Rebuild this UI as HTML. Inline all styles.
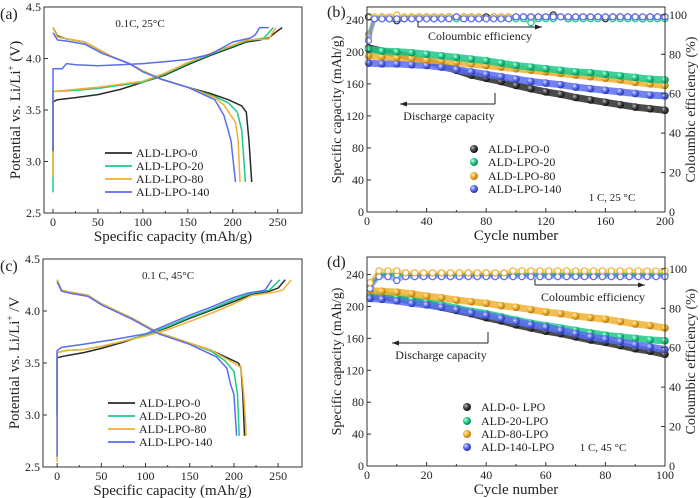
<!DOCTYPE html>
<html><head><meta charset="utf-8">
<style>
body{margin:0;background:#fff;}
svg{display:block;font-family:"Liberation Serif",serif;}
</style></head>
<body>
<svg id="fig" width="700" height="498" viewBox="0 0 700 498">
<defs>
<radialGradient id="g-black" cx="35%" cy="35%" r="65%"><stop offset="0" stop-color="#bbb"/><stop offset="0.5" stop-color="#444"/><stop offset="1" stop-color="#111"/></radialGradient>
<radialGradient id="g-green" cx="35%" cy="35%" r="65%"><stop offset="0" stop-color="#c8ffe8"/><stop offset="0.5" stop-color="#22cc88"/><stop offset="1" stop-color="#0a8a5a"/></radialGradient>
<radialGradient id="g-orange" cx="35%" cy="35%" r="65%"><stop offset="0" stop-color="#fff0c0"/><stop offset="0.5" stop-color="#f0b030"/><stop offset="1" stop-color="#b07a10"/></radialGradient>
<radialGradient id="g-blue" cx="35%" cy="35%" r="65%"><stop offset="0" stop-color="#dde2ff"/><stop offset="0.5" stop-color="#5a6cf0"/><stop offset="1" stop-color="#2a38b0"/></radialGradient>
</defs>
</svg>
<script>
// ---------- Panel (a) voltage profiles, 0.1C 25C ----------
const aBlackChgX=[0,0,5,25,50,75,100,125,150,175,200,215,230,240,250,255];
const aBlackChgY=[3.1,3.58,3.6,3.62,3.65,3.7,3.77,3.84,3.94,4.03,4.11,4.16,4.18,4.2,4.27,4.3];
const aBlackDisX=[0,5,15,35,50,65,85,100,120,150,175,195,210,215,218,221];
const aBlackDisY=[4.3,4.22,4.19,4.16,4.09,4.02,3.95,3.88,3.8,3.72,3.66,3.6,3.54,3.48,3.2,2.8];
const aGreenChgX=[0,0,25,50,75,100,125,150,175,200,215,235,242,245];
const aGreenChgY=[2.7,3.68,3.69,3.71,3.74,3.77,3.85,3.95,4.04,4.12,4.17,4.2,4.27,4.3];
const aGreenDisX=[0,5,15,35,50,65,85,100,120,150,180,195,205,210,214];
const aGreenDisY=[4.3,4.21,4.19,4.16,4.09,4.02,3.95,3.88,3.8,3.72,3.63,3.57,3.48,3.3,2.8];
const aOrangeChgX=[0,0,25,50,75,100,125,150,175,200,215,240,245,248];
const aOrangeChgY=[2.85,3.68,3.7,3.72,3.75,3.78,3.86,3.96,4.05,4.13,4.18,4.19,4.26,4.3];
const aOrangeDisX=[0,5,15,35,50,65,85,100,120,150,180,190,200,203,206,208];
const aOrangeDisY=[4.3,4.21,4.19,4.16,4.09,4.02,3.95,3.88,3.8,3.72,3.62,3.55,3.42,3.38,3.2,2.8];
const aBlueChgX=[0,0,10,15,25,50,75,100,125,150,175,200,220,225,230,240];
const aBlueChgY=[3.1,3.9,3.9,3.95,3.94,3.93,3.94,3.95,3.97,3.99,4.04,4.16,4.2,4.23,4.3,4.3];
const aBlueDisX=[0,5,15,35,55,85,100,120,150,180,190,195,198,203];
const aBlueDisY=[4.25,4.18,4.17,4.14,4.05,3.95,3.87,3.8,3.72,3.6,3.45,3.3,3.2,2.8];
// ---------- Panel (c) voltage profiles, 0.1C 45C ----------
const cBlackChgX=[0,0,10,30,50,75,100,125,150,175,200,220,240,250,258];
const cBlackChgY=[3.0,3.55,3.57,3.6,3.64,3.7,3.77,3.84,3.93,4.01,4.09,4.16,4.19,4.22,4.3];
const cBlackDisX=[0,5,15,35,50,65,85,100,115,150,175,195,205,208,210,212];
const cBlackDisY=[4.3,4.2,4.18,4.15,4.07,4.01,3.93,3.86,3.79,3.69,3.62,3.54,3.5,3.45,3.2,2.8];
const cGreenChgX=[0,0,10,30,50,75,100,125,150,175,200,220,240,252];
const cGreenChgY=[3.0,3.6,3.62,3.63,3.66,3.71,3.77,3.85,3.94,4.02,4.11,4.17,4.2,4.3];
const cGreenDisX=[0,5,15,35,50,65,85,100,115,150,175,190,200,204,206];
const cGreenDisY=[4.3,4.2,4.18,4.15,4.07,4.01,3.93,3.86,3.79,3.69,3.61,3.52,3.42,3.2,2.8];
const cOrangeChgX=[0,0,10,30,50,75,100,125,150,175,200,220,245,255,265];
const cOrangeChgY=[2.55,3.6,3.62,3.63,3.66,3.71,3.76,3.82,3.9,3.98,4.07,4.15,4.18,4.2,4.3];
const cOrangeDisX=[0,5,15,35,50,65,85,100,115,150,175,200,208,211,214];
const cOrangeDisY=[4.3,4.2,4.18,4.15,4.07,4.01,3.93,3.86,3.79,3.69,3.62,3.5,3.46,3.2,2.8];
const cBlueChgX=[0,0,5,30,60,100,125,150,175,200,215,235,243];
const cBlueChgY=[2.6,3.62,3.65,3.68,3.72,3.78,3.87,3.96,4.04,4.13,4.17,4.2,4.3];
const cBlueDisX=[0,5,15,35,50,65,85,100,115,150,180,192,196,200,203];
const cBlueDisY=[4.28,4.19,4.17,4.14,4.06,4.0,3.92,3.85,3.78,3.68,3.56,3.45,3.3,3.2,2.8];
// ---------- Panel (b) cycling 1C 25C ----------
const bCapCycles=[1,10,20,30,40,50,60,70,80,90,100,110,120,130,140,150,160,170,180,190,200];
const bCapBlack=[205,201,197,193,189,183,177,171,167,163,158,154,150,147,143,140,137,134,131,129,127];
const bCapGreen=[203,201,200,199,197,195,193,191,189,186,183,181,179,177,175,174,172,170,168,166,165];
const bCapOrange=[195,194,193,192,190,189,187,185,183,181,179,177,175,173,171,169,167,165,162,160,158];
const bCapBlue=[186,185,185,184,183,181,178,175,172,169,166,163,161,159,156,154,152,150,148,146,145];
const bCeCycles=[1,5,10,15,20,25,30,35,40,45,50,55,60,65,70,75,80,85,90,95,100,105,110,115,120,125,130,135,140,145,150,155,160,165,170,175,180,185,190,195,200];
const bCeBlack=[99,98,99,98,97,98,99,99,99,99,99,99,99,99,99,99,99,99,99,99,99,99,99,99,99,100,99,98,99,99,99,99,98,99,99,99,99,98,99,99,99];
const bCeGreen=[90,98,98,98,98,99,98,98,99,98,98,99,98,98,99,98,98,99,98,98,98,98,96,98,98,98,99,98,98,98,98,98,99,98,98,98,98,98,98,98,98];
const bCeOrange=[89,99,99,99,100,99,99,99,99,99,99,99,99,99,99,99,98,99,99,99,99,99,99,99,99,99,99,99,99,99,99,99,99,99,99,99,99,99,99,99,99];
const bCeBlue=[87,98,98,98,98,98,98,98,98,98,98,98,99,98,98,98,98,98,98,98,99,99,99,99,99,99,99,99,99,99,99,99,99,99,99,99,99,99,99,99,99];
// ---------- Panel (d) cycling 1C 45C ----------
const dCapCycles=[1,5,10,15,20,25,30,35,40,45,50,55,60,65,70,75,80,85,90,95,100];
const dCapBlack=[213,212,210,207,204,199,195,191,186,182,177,173,169,166,162,158,155,151,147,144,140];
const dCapGreen=[216,215,212,209,206,202,198,194,191,187,183,179,176,173,170,167,164,162,160,158,157];
const dCapOrange=[220,219,218,216,213,211,208,206,204,201,199,196,193,191,188,186,184,181,178,176,173];
const dCapBlue=[210,209,207,204,202,199,196,192,189,185,181,177,174,170,166,162,159,156,152,149,146];
const dCeCycles=[1,4,7,10,13,16,19,22,25,28,31,34,37,40,43,46,49,52,55,58,61,64,67,70,73,76,79,82,85,88,91,94,97,100];
const dCeBlack=[92,97,97,97,97,97,97,97,97,97,97,97,97,97,97,97,97,97,97,97,97,97,97,97,97,97,97,97,97,97,97,97,97,97];
const dCeGreen=[91,97,97,97,97,97,97,97,97,97,97,97,97,97,97,97,97,97,97,97,97,97,97,97,97,97,97,97,97,97,97,97,97,97];
const dCeOrange=[93,99,99,99,98,98,98,98,98,98,98,98,98,98,98,98,99,99,99,99,99,99,99,99,99,99,99,99,99,99,99,99,99,99];
const dCeBlue=[90,96,96,94,96,96,96,96,96,96,96,96,96,96,96,96,96,96,96,96,96,96,96,96,96,96,96,96,96,96,96,96,96,96];

const NS="http://www.w3.org/2000/svg";
const svg=document.getElementById('fig');
const COL={black:'#2a2a2a',green:'#1fc98a',orange:'#f0b030',blue:'#5a6cf0'};
function mk(tag,attrs,parent){const e=document.createElementNS(NS,tag);for(const k in attrs)e.setAttribute(k,attrs[k]);(parent||svg).appendChild(e);return e;}
function txt(s,x,y,size,anchor,parent,extra){const t=mk('text',Object.assign({x:x,y:y,'font-size':size,'text-anchor':anchor||'start',fill:'#222'},extra||{}),parent);t.textContent=s;return t;}
function scale(d0,d1,p0,p1){return v=>p0+(v-d0)/(d1-d0)*(p1-p0);}

function frame(P,g){
  mk('rect',{x:P.x0,y:P.y0,width:P.x1-P.x0,height:P.y1-P.y0,fill:'none',stroke:'#333','stroke-width':1},g);
}
function xTicks(P,sx,ticks,minor,g,labels){
  ticks.forEach((v,i)=>{const x=sx(v);
    mk('line',{x1:x,x2:x,y1:P.y1,y2:P.y1-4,stroke:'#333'},g);
    const t=txt(labels[i],x,P.y1+13,12,'middle',g);
    
    });
  minor.forEach(v=>{const x=sx(v);mk('line',{x1:x,x2:x,y1:P.y1,y2:P.y1-2,stroke:'#333'},g);});
}
function yTicks(P,sy,ticks,labels,g,right){
  ticks.forEach((v,i)=>{const y=sy(v);
    if(right){mk('line',{x1:P.x1,x2:P.x1-4,y1:y,y2:y,stroke:'#333'},g);
      const t=txt(labels[i],P.x1+4,y+4,12,'start',g);
      
      }
    else{mk('line',{x1:P.x0,x2:P.x0+4,y1:y,y2:y,stroke:'#333'},g);
      const t=txt(labels[i],P.x0-3,y+4,12,'end',g);
      
      }
  });
}
function curve(xs,ys,sx,sy,color,g,name){
  const pts=xs.map((x,i)=>sx(x).toFixed(1)+','+sy(ys[i]).toFixed(1)).join(' ');
  const p=mk('polyline',{points:pts,fill:'none',stroke:color,'stroke-width':1.5,'stroke-linejoin':'round'},g);
  
  
}
function arrowLine(x1,y1,x2,y2,g){
  mk('line',{x1:x1,y1:y1,x2:x2,y2:y2,stroke:'#222','stroke-width':1},g);
  const dir=x2>x1?1:-1;
  mk('polygon',{points:`${x2},${y2} ${x2-dir*7},${y2-2.5} ${x2-dir*7},${y2+2.5}`,fill:'#222'},g);
}

// ===== voltage panels =====
function voltagePanel(P,id,label,cond,ytitle,series,legendX,legendY){
  const g=mk('g',{});
  
  
  const sx=scale(P.xd[0],P.xd[1],P.x0,P.x1), sy=scale(2.5,4.5,P.y1,P.y0);
  series.forEach(s=>{
    curve(s.cx,s.cy,sx,sy,COL[s.c],g,'charge-curve-'+s.c);
    curve(s.dx,s.dy,sx,sy,COL[s.c],g,'discharge-curve-'+s.c);
  });
  frame(P,g);
  xTicks(P,sx,[0,50,100,150,200,250],[25,75,125,175,225],g,['0','50','100','150','200','250']);
  yTicks(P,sy,[2.5,3.0,3.5,4.0,4.5],['2.5','3.0','3.5','4.0','4.5'],g);
  const pl=txt(label,0,P.y0+12,16,'start',g);
  
  
  const ct=txt(cond.t,cond.x,P.y0+20,11,'middle',g);
  
  
  const xt=txt('Specific capacity (mAh/g)',(P.x0+P.x1)/2,P.y1+28,15,'middle',g);
  
  
  const yt=mk('text',{x:0,y:0,'font-size':15,'text-anchor':'middle',fill:'#222',transform:`translate(${P.x0-24},${(P.y0+P.y1)/2}) rotate(-90)`},g);
  yt.innerHTML=ytitle;
  
  
  series.forEach((s,i)=>{
    const lg=mk('g',{},g);
    
    
    const y=legendY[i];
    mk('line',{x1:legendX,x2:legendX+27,y1:y,y2:y,stroke:COL[s.c],'stroke-width':1.8},lg);
    txt(s.name,legendX+31,y+4,12,'start',lg);
  });
}
voltagePanel({x0:44,x1:302,y0:7,y1:213,xd:[-10,277]},'a','(a)',{t:'0.1C, 25°C',x:140},
 'Potential vs. Li/Li<tspan font-size="9" dy="-6">+</tspan><tspan dy="6"> (V)</tspan>',
 [{c:'black',name:'ALD-LPO-0',cx:aBlackChgX,cy:aBlackChgY,dx:aBlackDisX,dy:aBlackDisY},
  {c:'green',name:'ALD-LPO-20',cx:aGreenChgX,cy:aGreenChgY,dx:aGreenDisX,dy:aGreenDisY},
  {c:'orange',name:'ALD-LPO-80',cx:aOrangeChgX,cy:aOrangeChgY,dx:aOrangeDisX,dy:aOrangeDisY},
  {c:'blue',name:'ALD-LPO-140',cx:aBlueChgX,cy:aBlueChgY,dx:aBlueDisX,dy:aBlueDisY}],
 105,[153,166,179,192]);
voltagePanel({x0:43,x1:302,y0:259,y1:467,xd:[-16,277]},'c','(c)',{t:'0.1 C, 45°C',x:168},
 'Potential vs. Li/Li<tspan font-size="9" dy="-6">+</tspan><tspan dy="6"> /V</tspan>',
 [{c:'black',name:'ALD-LPO-0',cx:cBlackChgX,cy:cBlackChgY,dx:cBlackDisX,dy:cBlackDisY},
  {c:'green',name:'ALD-LPO-20',cx:cGreenChgX,cy:cGreenChgY,dx:cGreenDisX,dy:cGreenDisY},
  {c:'orange',name:'ALD-LPO-80',cx:cOrangeChgX,cy:cOrangeChgY,dx:cOrangeDisX,dy:cOrangeDisY},
  {c:'blue',name:'ALD-LPO-140',cx:cBlueChgX,cy:cBlueChgY,dx:cBlueDisX,dy:cBlueDisY}],
 108,[403,416,429,442]);

// ===== cycling panels =====
function cyclePanel(P,id,label,cond,xt,xm,caps,capCyc,ces,ceCyc,legendX,legendY,legend,ann){
  const g=mk('g',{});
  
  
  const sx=scale(P.xd[0],P.xd[1],P.x0,P.x1), sy=scale(P.yd[0],P.yd[1],P.y1,P.y0), sr=scale(P.yr[0],P.yr[1],P.y1,P.y0);
  caps.forEach(s=>{
    const pts=capCyc.map((c,i)=>sx(c).toFixed(1)+','+sy(s.v[i]).toFixed(1)).join(' ');
    mk('polyline',{points:pts,fill:'none',stroke:COL[s.c],'stroke-width':7,'stroke-linejoin':'round',opacity:0.85},g);
    capCyc.forEach((c,i)=>{
      const m=mk('circle',{cx:sx(c),cy:sy(s.v[i]),r:3.8,fill:`url(#g-${s.c})`},g);
      
      
    });
  });
  ces.forEach(s=>{
    const pts=ceCyc.map((c,i)=>sx(c).toFixed(1)+','+sr(s.v[i]).toFixed(1)).join(' ');
    mk('polyline',{points:pts,fill:'none',stroke:COL[s.c],'stroke-width':4,opacity:0.5},g);
    ceCyc.forEach((c,i)=>{
      const m=mk('circle',{cx:sx(c),cy:sr(s.v[i]),r:3,fill:'#fff',stroke:COL[s.c],'stroke-width':1.2},g);
      
      
    });
  });
  frame(P,g);
  xTicks(P,sx,xt,xm,g,xt.map(String));
  yTicks(P,sy,[0,40,80,120,160,200,240],['0','40','80','120','160','200','240'],g);
  yTicks(P,sr,[0,20,40,60,80,100],['0','20','40','60','80','100'],g,true);
  const pl=txt(label,327,P.y0+10,16,'start',g);
  
  
  const x=txt('Cycle number',(P.x0+P.x1)/2,P.y1+28,15,'middle',g);
  
  
  const yl=txt('Specific capacity (mAh/g)',0,0,14,'middle',g,{transform:`translate(${P.x0-26},${(P.y0+P.y1)/2}) rotate(-90)`});
  
  
  const yr=txt('Coloumbic efficiency (%)',0,0,14,'middle',g,{transform:`translate(${P.x1+30},${(P.y0+P.y1)/2}) rotate(-90)`});
  
  
  const ct=txt(cond.t,cond.x,cond.y,11,'middle',g);
  
  
  legend.forEach((s,i)=>{
    const lg=mk('g',{},g);
    
    
    mk('circle',{cx:legendX,cy:legendY[i],r:4,fill:`url(#g-${s.c})`},lg);
    txt(s.n,legendX+14,legendY[i]+4,12,'start',lg);
  });
  const ce=txt('Coloumbic efficiency',ann.ceX,ann.ceY,12,'middle',g);
  
  
  mk('line',{x1:ann.ceA[0],y1:ann.ceA[1]-6,x2:ann.ceA[0],y2:ann.ceA[1],stroke:'#222'},g);
  arrowLine(ann.ceA[0],ann.ceA[1],ann.ceA[2],ann.ceA[1],g);
  const dc=txt('Discharge capacity',ann.dcX,ann.dcY,12,'middle',g);
  
  
  mk('line',{x1:ann.dcA[0],y1:ann.dcA[1]-11,x2:ann.dcA[0],y2:ann.dcA[1],stroke:'#222'},g);
  arrowLine(ann.dcA[0],ann.dcA[1],ann.dcA[2],ann.dcA[1],g);
}
cyclePanel({x0:367,x1:665,y0:7,y1:212,xd:[0,200],yd:[0,256],yr:[0,104]},'b','(b)',{t:'1 C, 25 °C',x:612,y:201},
 [0,40,80,120,160,200],[20,60,100,140,180],
 [{c:'black',v:bCapBlack},{c:'blue',v:bCapBlue},{c:'orange',v:bCapOrange},{c:'green',v:bCapGreen}],bCapCycles,
 [{c:'black',v:bCeBlack},{c:'green',v:bCeGreen},{c:'orange',v:bCeOrange},{c:'blue',v:bCeBlue}],bCeCycles,
 474,[149,162,176,189],
 [{c:'black',n:'ALD-LPO-0'},{c:'green',n:'ALD-LPO-20'},{c:'orange',n:'ALD-LPO-80'},{c:'blue',n:'ALD-LPO-140'}],
 {ceX:480,ceY:40,ceA:[418,27,542],dcX:449,dcY:120,dcA:[495,104,400]});
cyclePanel({x0:367,x1:665,y0:257,y1:466,xd:[0,100],yd:[0,262],yr:[0,106]},'d','(d)',{t:'1 C, 45 °C',x:603,y:451},
 [0,20,40,60,80,100],[10,30,50,70,90],
 [{c:'black',v:dCapBlack},{c:'green',v:dCapGreen},{c:'blue',v:dCapBlue},{c:'orange',v:dCapOrange}],dCapCycles,
 [{c:'black',v:dCeBlack},{c:'green',v:dCeGreen},{c:'blue',v:dCeBlue},{c:'orange',v:dCeOrange}],dCeCycles,
 467,[407,421,434,447],
 [{c:'black',n:'ALD-0- LPO'},{c:'green',n:'ALD-20-LPO'},{c:'orange',n:'ALD-80-LPO'},{c:'blue',n:'ALD-140-LPO'}],
 {ceX:593,ceY:301,ceA:[535,285,645],dcX:441,dcY:359,dcA:[488,343,392]});
</script>
</body></html>
